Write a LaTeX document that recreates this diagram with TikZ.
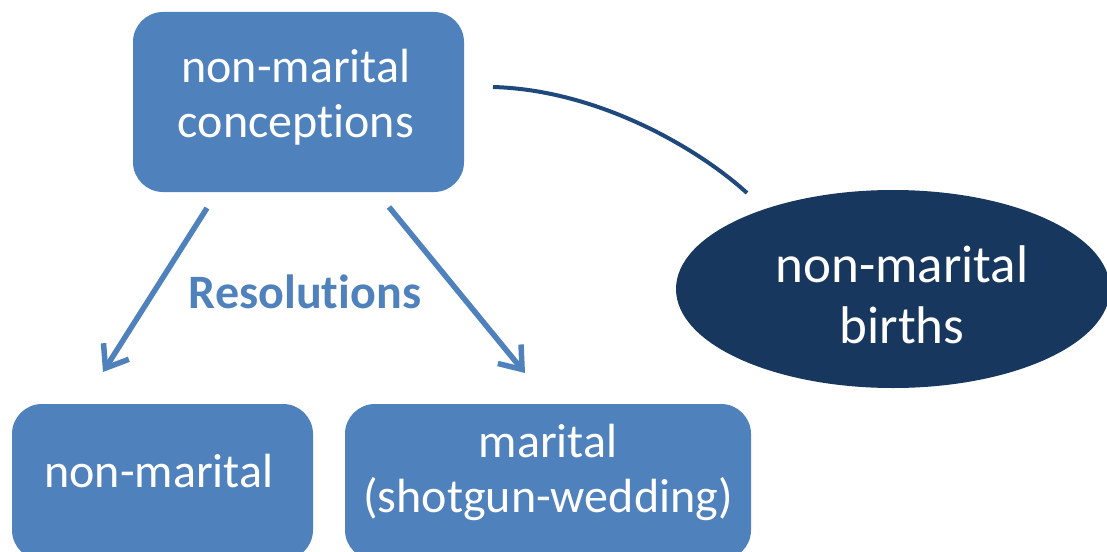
\documentclass[tikz,border=0pt]{standalone}
\usepackage{fontspec}
\setmainfont{Carlito}[Ligatures=NoCommon]
\usetikzlibrary{arrows.meta,shapes.geometric}
\definecolor{boxblue}{RGB}{79,129,189}
\definecolor{navy}{RGB}{23,55,94}
\definecolor{curvenavy}{RGB}{31,73,125}
\tikzset{
  bluebox/.style={rectangle, rounded corners=30pt, fill=boxblue, inner sep=0pt},
  boxtext/.style={text=white, align=center, inner sep=0pt, anchor=base,
    font=\fontsize{48}{55}\selectfont},
  birthsnode/.style={ellipse, fill=navy, inner sep=0pt},
  birthstext/.style={text=white, align=center, inner sep=0pt, anchor=base,
    font=\fontsize{53}{61}\selectfont},
  resarrow/.style={draw=boxblue, line width=5.5pt, -{Straight Barb[length=20pt,width=30pt]}},
  linkcurve/.style={draw=curvenavy, line width=4pt},
  reslabel/.style={text=boxblue, font=\fontsize{48}{56}\selectfont\bfseries, inner sep=0pt}
}
\begin{document}
\begin{tikzpicture}[x=1pt,y=-1pt]
\useasboundingbox (0,0) rectangle (1107,551);
\node[bluebox, minimum width=331pt, minimum height=180pt] (conc) at (298.5,102) {};
\node[boxtext] (conctext) at (296,137) {non-marital\\conceptions};
\node[birthsnode, minimum width=434pt, minimum height=198pt] (births) at (893,289) {};
\node[birthstext] (birthstxt) at (902,343) {non-marital\\births};
\node[bluebox, minimum width=301pt, minimum height=156pt] (nonmar) at (162.5,482) {};
\node[boxtext] (nonmartext) at (159,487) {non-marital};
\node[bluebox, minimum width=406pt, minimum height=156pt] (mar) at (548,482) {};
\node[boxtext] (martext) at (548,512) {marital\\(shotgun-wedding)};
\node[reslabel, anchor=base] (res) at (305,308) {Resolutions};
\coordinate (a1s) at (207,208);
\coordinate (a1e) at (103,372);
\coordinate (a2s) at (389,207);
\coordinate (a2e) at (525,373);
\draw[resarrow] (a1s) -- (a1e);
\draw[resarrow] (a2s) -- (a2e);
\coordinate (cs) at (493,87);
\coordinate (ce) at (747,193);
\draw[linkcurve] (cs) .. controls (600,90) and (700,150) .. (ce);
\end{tikzpicture}
\end{document}
